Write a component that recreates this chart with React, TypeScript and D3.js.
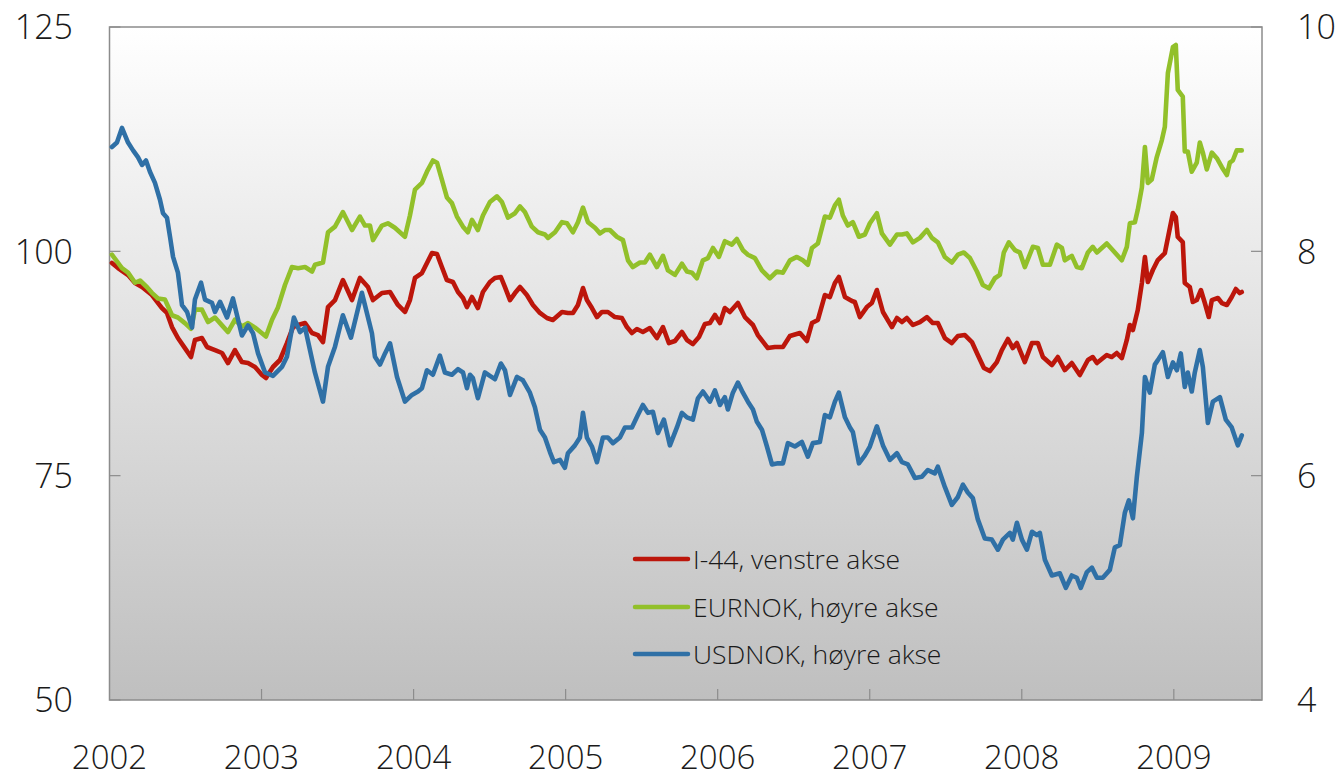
import React from "react";
import * as d3 from "d3";

const WIDTH = 1342;
const HEIGHT = 779;

const yearTicks = [2002, 2003, 2004, 2005, 2006, 2007, 2008, 2009];
const leftTicks = [50, 75, 100, 125];
const rightTicks = [4, 6, 8, 10];
const seriesNames = ["I-44, venstre akse", "EURNOK, høyre akse", "USDNOK, høyre akse"];
const seriesColors = ["#bc160b", "#92c02a", "#2f70a6"];

// [decimal year, value]
const i44: [number, number][] = [
  [2002.016,98.70],[2002.056,98.14],[2002.122,97.36],[2002.168,96.47],[2002.214,96.02],[2002.279,95.13],[2002.345,93.68],[2002.378,93.13],[2002.411,91.56],[2002.450,90.34],[2002.496,89.22],[2002.536,88.22],[2002.562,90.12],[2002.608,90.34],[2002.641,89.34],[2002.694,89.00],[2002.740,88.67],[2002.779,87.55],[2002.825,89.00],[2002.871,87.66],[2002.911,87.55],[2002.957,87.11],[2003.003,86.22],[2003.029,85.88],[2003.075,87.11],[2003.121,87.89],[2003.167,89.78],[2003.207,91.56],[2003.240,91.79],[2003.286,92.01],[2003.332,90.90],[2003.371,90.67],[2003.404,89.89],[2003.437,93.79],[2003.483,94.57],[2003.535,96.80],[2003.595,94.57],[2003.647,97.03],[2003.700,96.02],[2003.733,94.57],[2003.792,95.35],[2003.845,95.47],[2003.897,94.02],[2003.943,93.24],[2003.976,94.57],[2004.009,97.03],[2004.055,97.58],[2004.088,98.70],[2004.121,99.81],[2004.154,99.70],[2004.186,98.25],[2004.219,96.80],[2004.259,96.58],[2004.292,95.47],[2004.325,94.80],[2004.351,93.79],[2004.384,94.91],[2004.423,93.68],[2004.456,95.47],[2004.502,96.58],[2004.535,97.03],[2004.574,97.14],[2004.601,96.02],[2004.634,94.57],[2004.667,95.35],[2004.700,96.02],[2004.745,95.13],[2004.785,94.02],[2004.831,93.13],[2004.877,92.57],[2004.916,92.35],[2004.976,93.24],[2005.015,93.13],[2005.048,93.13],[2005.081,94.02],[2005.114,95.91],[2005.140,94.57],[2005.173,93.68],[2005.206,92.68],[2005.239,93.24],[2005.278,93.24],[2005.324,92.68],[2005.370,92.57],[2005.403,91.56],[2005.436,90.90],[2005.469,91.34],[2005.508,91.01],[2005.554,91.45],[2005.600,90.34],[2005.640,91.56],[2005.679,89.78],[2005.719,90.01],[2005.765,91.01],[2005.798,90.12],[2005.837,89.67],[2005.877,90.45],[2005.916,91.90],[2005.949,92.01],[2005.982,92.90],[2006.015,92.01],[2006.047,93.68],[2006.080,93.24],[2006.133,94.24],[2006.179,92.68],[2006.232,91.79],[2006.264,90.67],[2006.330,89.22],[2006.376,89.34],[2006.429,89.34],[2006.475,90.56],[2006.541,90.90],[2006.587,90.01],[2006.620,92.01],[2006.659,92.35],[2006.705,95.13],[2006.738,94.91],[2006.771,96.47],[2006.797,97.14],[2006.837,94.91],[2006.883,94.46],[2006.902,94.35],[2006.935,92.68],[2006.981,93.79],[2007.014,94.24],[2007.047,95.69],[2007.087,93.24],[2007.146,91.56],[2007.179,92.57],[2007.212,92.12],[2007.244,92.57],[2007.284,91.79],[2007.330,92.12],[2007.376,92.68],[2007.415,92.01],[2007.448,92.01],[2007.494,90.34],[2007.540,89.78],[2007.580,90.56],[2007.626,90.67],[2007.672,89.89],[2007.711,88.44],[2007.751,87.00],[2007.790,86.66],[2007.836,87.66],[2007.869,89.00],[2007.909,90.23],[2007.941,89.22],[2007.968,89.78],[2008.020,87.66],[2008.067,89.78],[2008.106,89.78],[2008.139,88.22],[2008.198,87.33],[2008.237,88.22],[2008.283,86.77],[2008.329,87.55],[2008.382,86.22],[2008.435,87.89],[2008.467,88.22],[2008.494,87.55],[2008.559,88.44],[2008.592,88.22],[2008.625,88.67],[2008.658,88.11],[2008.691,90.12],[2008.711,91.79],[2008.731,91.23],[2008.763,93.46],[2008.790,96.47],[2008.810,99.37],[2008.829,96.58],[2008.862,97.92],[2008.895,99.03],[2008.941,99.81],[2008.994,104.27],[2009.013,103.82],[2009.026,101.60],[2009.059,101.04],[2009.072,96.47],[2009.105,96.02],[2009.125,94.35],[2009.151,94.57],[2009.178,95.69],[2009.204,94.24],[2009.230,92.68],[2009.250,94.57],[2009.290,94.80],[2009.316,94.24],[2009.349,94.02],[2009.381,94.91],[2009.408,95.80],[2009.434,95.35],[2009.447,95.47]
];

const eurnok: [number, number][] = [
  [2002.016,7.97],[2002.082,7.85],[2002.122,7.81],[2002.168,7.72],[2002.201,7.74],[2002.247,7.68],[2002.279,7.63],[2002.319,7.58],[2002.365,7.57],[2002.411,7.43],[2002.450,7.41],[2002.496,7.36],[2002.536,7.31],[2002.562,7.48],[2002.608,7.48],[2002.648,7.37],[2002.694,7.41],[2002.740,7.34],[2002.779,7.28],[2002.825,7.39],[2002.871,7.33],[2002.911,7.36],[2002.957,7.32],[2003.003,7.27],[2003.029,7.24],[2003.069,7.39],[2003.108,7.50],[2003.154,7.70],[2003.200,7.86],[2003.240,7.85],[2003.286,7.86],[2003.332,7.82],[2003.351,7.88],[2003.404,7.90],[2003.437,8.17],[2003.483,8.22],[2003.535,8.35],[2003.595,8.19],[2003.647,8.31],[2003.680,8.23],[2003.713,8.23],[2003.733,8.10],[2003.792,8.23],[2003.831,8.25],[2003.877,8.21],[2003.943,8.13],[2003.976,8.32],[2004.009,8.55],[2004.055,8.61],[2004.088,8.71],[2004.127,8.81],[2004.154,8.79],[2004.186,8.64],[2004.219,8.48],[2004.252,8.43],[2004.285,8.31],[2004.325,8.22],[2004.357,8.17],[2004.384,8.28],[2004.423,8.19],[2004.456,8.32],[2004.502,8.44],[2004.548,8.49],[2004.581,8.44],[2004.621,8.30],[2004.667,8.34],[2004.700,8.40],[2004.732,8.35],[2004.778,8.22],[2004.818,8.17],[2004.864,8.15],[2004.884,8.12],[2004.930,8.17],[2004.976,8.26],[2005.009,8.25],[2005.048,8.17],[2005.081,8.26],[2005.114,8.39],[2005.147,8.26],[2005.193,8.21],[2005.226,8.16],[2005.258,8.19],[2005.291,8.19],[2005.337,8.13],[2005.377,8.10],[2005.410,7.92],[2005.442,7.86],[2005.489,7.90],[2005.521,7.90],[2005.554,7.97],[2005.600,7.86],[2005.640,7.96],[2005.673,7.83],[2005.719,7.79],[2005.765,7.89],[2005.798,7.82],[2005.831,7.81],[2005.863,7.76],[2005.903,7.92],[2005.936,7.94],[2005.969,8.03],[2006.008,7.95],[2006.047,8.09],[2006.093,8.06],[2006.126,8.11],[2006.166,8.01],[2006.199,7.97],[2006.245,7.94],[2006.291,7.83],[2006.343,7.76],[2006.389,7.82],[2006.429,7.81],[2006.475,7.92],[2006.521,7.95],[2006.560,7.92],[2006.593,7.88],[2006.620,8.03],[2006.659,8.07],[2006.705,8.31],[2006.738,8.30],[2006.771,8.41],[2006.797,8.46],[2006.823,8.32],[2006.856,8.23],[2006.889,8.26],[2006.929,8.13],[2006.968,8.15],[2007.001,8.25],[2007.047,8.34],[2007.080,8.16],[2007.133,8.06],[2007.179,8.15],[2007.212,8.15],[2007.244,8.16],[2007.284,8.08],[2007.330,8.12],[2007.376,8.19],[2007.409,8.12],[2007.448,8.08],[2007.494,7.95],[2007.540,7.90],[2007.580,7.97],[2007.619,7.99],[2007.659,7.94],[2007.705,7.82],[2007.744,7.70],[2007.784,7.67],[2007.823,7.76],[2007.856,7.79],[2007.882,7.99],[2007.915,8.08],[2007.955,8.01],[2007.987,7.99],[2008.020,7.86],[2008.073,8.04],[2008.106,8.03],[2008.139,7.88],[2008.185,7.88],[2008.231,8.06],[2008.264,8.03],[2008.283,7.92],[2008.329,7.96],[2008.362,7.86],[2008.395,7.85],[2008.435,7.99],[2008.467,8.04],[2008.494,7.99],[2008.559,8.07],[2008.599,8.01],[2008.658,7.92],[2008.691,8.04],[2008.711,8.25],[2008.744,8.26],[2008.763,8.37],[2008.790,8.57],[2008.810,8.93],[2008.829,8.61],[2008.855,8.64],[2008.888,8.84],[2008.921,8.99],[2008.941,9.11],[2008.961,9.59],[2008.994,9.82],[2009.013,9.84],[2009.026,9.44],[2009.059,9.38],[2009.072,8.89],[2009.092,8.89],[2009.118,8.71],[2009.151,8.79],[2009.171,8.97],[2009.191,8.88],[2009.217,8.73],[2009.250,8.88],[2009.283,8.83],[2009.316,8.75],[2009.349,8.68],[2009.368,8.79],[2009.388,8.81],[2009.414,8.90],[2009.447,8.90]
];

const usdnok: [number, number][] = [
  [2002.016,8.93],[2002.049,8.97],[2002.082,9.10],[2002.122,8.97],[2002.155,8.90],[2002.187,8.84],[2002.214,8.77],[2002.240,8.81],[2002.266,8.71],[2002.299,8.61],[2002.332,8.46],[2002.352,8.34],[2002.378,8.30],[2002.398,8.13],[2002.418,7.95],[2002.450,7.81],[2002.477,7.52],[2002.510,7.46],[2002.543,7.32],[2002.562,7.57],[2002.602,7.72],[2002.628,7.57],[2002.674,7.54],[2002.694,7.46],[2002.727,7.55],[2002.773,7.41],[2002.812,7.58],[2002.871,7.25],[2002.911,7.34],[2002.944,7.27],[2002.977,7.09],[2003.023,6.92],[2003.075,6.89],[2003.134,6.97],[2003.167,7.06],[2003.213,7.41],[2003.253,7.28],[2003.286,7.32],[2003.351,6.92],[2003.404,6.66],[2003.437,6.97],[2003.483,7.15],[2003.535,7.43],[2003.588,7.23],[2003.660,7.63],[2003.726,7.27],[2003.746,7.06],[2003.779,6.99],[2003.812,7.09],[2003.845,7.18],[2003.891,6.88],[2003.943,6.66],[2003.989,6.72],[2004.029,6.75],[2004.055,6.78],[2004.088,6.94],[2004.127,6.90],[2004.173,7.07],[2004.206,6.92],[2004.252,6.90],[2004.292,6.95],[2004.325,6.92],[2004.351,6.78],[2004.371,6.90],[2004.390,6.87],[2004.423,6.69],[2004.469,6.92],[2004.502,6.89],[2004.535,6.86],[2004.574,7.00],[2004.601,6.94],[2004.634,6.72],[2004.680,6.88],[2004.719,6.85],[2004.765,6.74],[2004.798,6.61],[2004.831,6.41],[2004.864,6.34],[2004.897,6.21],[2004.923,6.12],[2004.963,6.14],[2004.995,6.07],[2005.015,6.20],[2005.061,6.27],[2005.094,6.34],[2005.114,6.56],[2005.140,6.34],[2005.173,6.26],[2005.206,6.12],[2005.245,6.34],[2005.278,6.34],[2005.311,6.29],[2005.357,6.34],[2005.390,6.43],[2005.436,6.43],[2005.475,6.54],[2005.508,6.63],[2005.541,6.56],[2005.574,6.57],[2005.607,6.38],[2005.646,6.50],[2005.686,6.27],[2005.732,6.43],[2005.765,6.56],[2005.798,6.52],[2005.837,6.50],[2005.870,6.69],[2005.903,6.75],[2005.949,6.66],[2005.982,6.76],[2006.015,6.63],[2006.047,6.70],[2006.067,6.59],[2006.100,6.74],[2006.133,6.83],[2006.166,6.74],[2006.199,6.66],[2006.232,6.59],[2006.258,6.48],[2006.291,6.41],[2006.324,6.26],[2006.357,6.10],[2006.396,6.11],[2006.429,6.11],[2006.462,6.29],[2006.508,6.26],[2006.554,6.30],[2006.593,6.17],[2006.626,6.29],[2006.672,6.30],[2006.705,6.54],[2006.738,6.52],[2006.771,6.66],[2006.797,6.74],[2006.837,6.52],[2006.870,6.43],[2006.889,6.39],[2006.929,6.11],[2006.968,6.18],[2007.001,6.26],[2007.047,6.44],[2007.087,6.27],[2007.133,6.14],[2007.179,6.20],[2007.212,6.12],[2007.251,6.10],[2007.297,5.98],[2007.343,5.99],[2007.382,6.05],[2007.428,6.02],[2007.448,6.08],[2007.494,5.90],[2007.540,5.74],[2007.580,5.81],[2007.613,5.92],[2007.645,5.85],[2007.678,5.80],[2007.711,5.61],[2007.757,5.44],[2007.803,5.43],[2007.843,5.34],[2007.876,5.43],[2007.922,5.49],[2007.941,5.43],[2007.968,5.58],[2008.001,5.43],[2008.034,5.34],[2008.067,5.50],[2008.099,5.47],[2008.119,5.49],[2008.152,5.25],[2008.198,5.11],[2008.250,5.13],[2008.290,5.00],[2008.329,5.11],[2008.362,5.09],[2008.388,5.00],[2008.428,5.14],[2008.461,5.18],[2008.494,5.09],[2008.533,5.09],[2008.579,5.16],[2008.612,5.36],[2008.645,5.38],[2008.678,5.67],[2008.704,5.78],[2008.731,5.62],[2008.757,5.99],[2008.790,6.38],[2008.810,6.88],[2008.842,6.74],[2008.875,6.99],[2008.895,7.03],[2008.928,7.10],[2008.961,6.88],[2008.994,7.01],[2009.020,6.94],[2009.046,7.09],[2009.072,6.79],[2009.092,6.92],[2009.118,6.75],[2009.138,6.92],[2009.171,7.12],[2009.191,6.97],[2009.224,6.47],[2009.257,6.66],[2009.303,6.70],[2009.342,6.50],[2009.381,6.43],[2009.421,6.27],[2009.447,6.36]
];

const margin = { left: 109.5, right: 1262, top: 27, bottom: 700 };
const FONT = "'Open Sans', 'DejaVu Sans', sans-serif";

export default function App() {
  const x = d3.scaleLinear().domain([2002, 2009.58]).range([margin.left, margin.right]);
  const yL = d3.scaleLinear().domain([50, 125]).range([margin.bottom, margin.top]);
  const yR = d3.scaleLinear().domain([4, 10]).range([margin.bottom, margin.top]);

  const lineL = d3.line<[number, number]>().x((d) => x(d[0])).y((d) => yL(d[1]));
  const lineR = d3.line<[number, number]>().x((d) => x(d[0])).y((d) => yR(d[1]));

  const paths = [lineL(i44) || "", lineR(eurnok) || "", lineR(usdnok) || ""];
  const pw = margin.right - margin.left;
  const ph = margin.bottom - margin.top;

  const legendX = 635;
  const legendY = [559, 607, 654];

  return (
    <svg
      width={WIDTH}
      height={HEIGHT}
      style={{ position: "absolute", left: 0, top: 0, display: "block", background: "#fff" }}
    >
      <defs>
        <linearGradient id="bg" x1="0" y1="0" x2="0" y2="1">
          <stop offset="0%" stopColor="#ffffff" />
          <stop offset="100%" stopColor="#bfbfbf" />
        </linearGradient>
      </defs>
      <rect x={margin.left} y={margin.top} width={pw} height={ph} fill="url(#bg)" />

      {/* ticks inside */}
      {yearTicks.slice(1).map((yr) => (
        <line key={"xt" + yr} x1={x(yr)} x2={x(yr)} y1={margin.bottom} y2={margin.bottom - 11} stroke="#8c8c8c" strokeWidth={1.2} />
      ))}
      {leftTicks.map((t) => (
        <line key={"lt" + t} x1={margin.left} x2={margin.left + 11} y1={yL(t)} y2={yL(t)} stroke="#8c8c8c" strokeWidth={1.2} />
      ))}
      {rightTicks.map((t) => (
        <line key={"rt" + t} x1={margin.right - 11} x2={margin.right} y1={yR(t)} y2={yR(t)} stroke="#8c8c8c" strokeWidth={1.2} />
      ))}

      <rect x={margin.left} y={margin.top} width={pw} height={ph} fill="none" stroke="#8c8c8c" strokeWidth={1.5} />

      {paths.map((p, i) => (
        <path key={"s" + i} d={p} fill="none" stroke={seriesColors[i]} strokeWidth={4.6} strokeLinejoin="round" strokeLinecap="round" />
      ))}

      {/* axis labels */}
      {leftTicks.map((t) => (
        <text key={"ll" + t} x={73} y={yL(t)} dy="0.36em" textAnchor="end" fontFamily={FONT} fontWeight={300} fontSize={34} fill="#1a1a1a">
          {t}
        </text>
      ))}
      {rightTicks.map((t) => (
        <text key={"rl" + t} x={1297} y={yR(t)} dy="0.36em" textAnchor="start" fontFamily={FONT} fontWeight={300} fontSize={34} fill="#1a1a1a">
          {t}
        </text>
      ))}
      {yearTicks.map((yr) => (
        <text key={"yl" + yr} x={x(yr)} y={769} textAnchor="middle" fontFamily={FONT} fontWeight={300} fontSize={33} fill="#1a1a1a">
          {yr}
        </text>
      ))}

      {/* legend */}
      {seriesNames.map((n, i) => (
        <g key={"lg" + i}>
          <line x1={legendX} x2={legendX + 53} y1={legendY[i]} y2={legendY[i]} stroke={seriesColors[i]} strokeWidth={4.5} strokeLinecap="round" />
          <text x={legendX + 58} y={legendY[i]} dy="0.36em" fontFamily={FONT} fontWeight={300} fontSize={26.5} fill="#1a1a1a">
            {n}
          </text>
        </g>
      ))}
    </svg>
  );
}
